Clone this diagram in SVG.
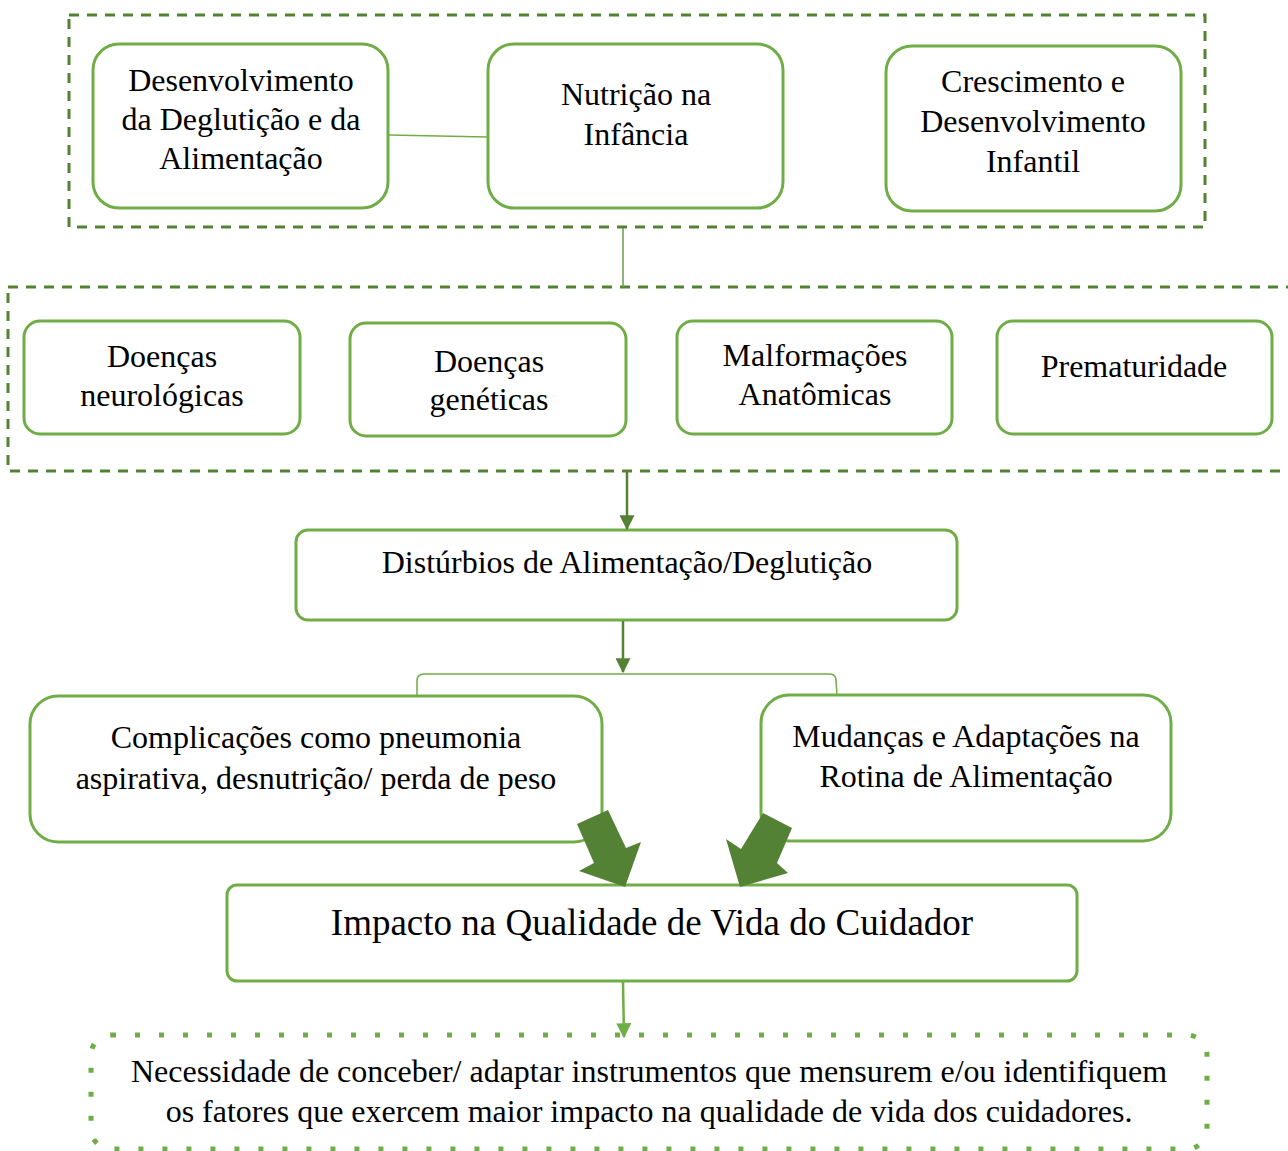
<svg xmlns="http://www.w3.org/2000/svg" width="1288" height="1151" viewBox="0 0 1288 1151">
<style>
.bg{fill:#ffffff}
.box{fill:#ffffff;stroke:#70AD47;stroke-width:3}
.grp{fill:none;stroke:#548235;stroke-width:3;stroke-dasharray:10 8}
.dot{fill:none;stroke:#70AD47;stroke-width:5;stroke-dasharray:5 19}
text{font-family:"Liberation Serif","Times New Roman",serif;font-size:32px;fill:#000;text-anchor:middle}
.big{font-size:37px}
.ln{fill:none;stroke:#70AD47;stroke-width:1.5}
.dk{fill:none;stroke:#548235;stroke-width:2.5}
.fat{fill:#548235;stroke:none}
</style>
<defs>
<marker id="ahd" markerWidth="6" markerHeight="6" refX="5.5" refY="3" orient="auto" markerUnits="strokeWidth"><path d="M0,0 L6,3 L0,6 Z" fill="#548235"/></marker>
<marker id="ahl" markerWidth="6" markerHeight="6" refX="5.5" refY="3" orient="auto" markerUnits="strokeWidth"><path d="M0,0 L6,3 L0,6 Z" fill="#70AD47"/></marker>
</defs>
<rect class="bg" x="0" y="0" width="1288" height="1151"/>
<g id="groups">
<rect id="group-top" class="grp" x="69" y="15" width="1136" height="212"/>
<rect id="group-causes" class="grp" x="8" y="287" width="1300" height="184"/>
<rect id="group-need" class="dot" x="91" y="1035" width="1116" height="114" rx="20"/>
</g>
<g id="n-deglut">
<rect class="box" x="93" y="44" width="295" height="164" rx="26"/>
<text x="241" y="91">Desenvolvimento</text>
<text x="241" y="130">da Deglutição e da</text>
<text x="241" y="169">Alimentação</text>
</g>
<g id="n-nutricao">
<rect class="box" x="488" y="44" width="295" height="164" rx="26"/>
<text x="636" y="105">Nutrição na</text>
<text x="636" y="145">Infância</text>
</g>
<g id="n-cresc">
<rect class="box" x="886" y="46" width="295" height="165" rx="26"/>
<text x="1033" y="92">Crescimento e</text>
<text x="1033" y="132">Desenvolvimento</text>
<text x="1033" y="172">Infantil</text>
</g>
<g id="n-neuro">
<rect class="box" x="24" y="321" width="276" height="113" rx="16"/>
<text x="162" y="367">Doenças</text>
<text x="162" y="406">neurológicas</text>
</g>
<g id="n-genet">
<rect class="box" x="350" y="323" width="276" height="113" rx="16"/>
<text x="489" y="372">Doenças</text>
<text x="489" y="410">genéticas</text>
</g>
<g id="n-malf">
<rect class="box" x="677" y="321" width="275" height="113" rx="16"/>
<text x="815" y="366">Malformações</text>
<text x="815" y="405">Anatômicas</text>
</g>
<g id="n-prem">
<rect class="box" x="997" y="321" width="275" height="113" rx="16"/>
<text x="1134" y="377">Prematuridade</text>
</g>
<g id="n-dist">
<rect class="box" x="296" y="530" width="661" height="90" rx="12"/>
<text x="627" y="573">Distúrbios de Alimentação/Deglutição</text>
</g>
<g id="n-compl">
<rect class="box" x="30" y="696" width="572" height="146" rx="28"/>
<text x="316" y="748">Complicações como pneumonia</text>
<text x="316" y="789">aspirativa, desnutrição/ perda de peso</text>
</g>
<g id="n-mud">
<rect class="box" x="761" y="695" width="410" height="146" rx="28"/>
<text x="966" y="747">Mudanças e Adaptações na</text>
<text x="966" y="787">Rotina de Alimentação</text>
</g>
<g id="n-impacto">
<rect class="box" x="227" y="885" width="850" height="96" rx="10" stroke-width="4"/>
<text class="big" x="652" y="935">Impacto na Qualidade de Vida do Cuidador</text>
</g>
<g id="n-need">
<text x="649" y="1082">Necessidade de conceber/ adaptar instrumentos que mensurem e/ou identifiquem</text>
<text x="649" y="1122">os fatores que exercem maior impacto na qualidade de vida dos cuidadores.</text>
</g>
<g id="connectors">
<line class="ln" x1="389" y1="135" x2="488" y2="137"/>
<line x1="623" y1="228" x2="623" y2="287" stroke="#6a9a4a" stroke-width="1.5"/>
<line class="dk" x1="627" y1="472" x2="627" y2="529" marker-end="url(#ahd)"/>
<line class="dk" x1="623" y1="621" x2="623" y2="672" marker-end="url(#ahd)"/>
<path class="ln" stroke-width="2.5" d="M417,695 L417,681 Q417,674 424,674 L830,674 Q836,674 836,681 L837,695"/>
<line x1="623" y1="982" x2="624" y2="1037" stroke="#70AD47" stroke-width="2.5" marker-end="url(#ahl)"/>
<polygon class="fat" points="577,824 608,810 626,848 641,842 625,887 579,871 594,863"/>
<polygon class="fat" points="763,813 792,828 777,863 788,873 740,887 726,839 741,849"/>
</g>
</svg>
